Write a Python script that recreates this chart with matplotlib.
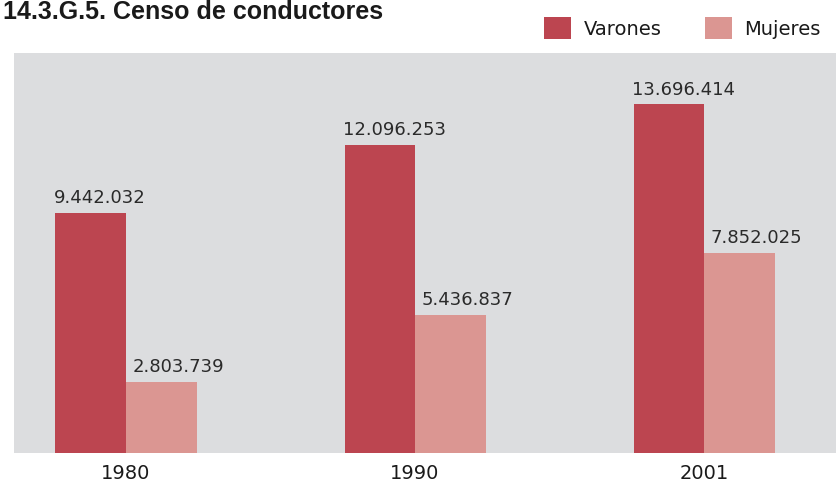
import numpy as np
import matplotlib.pyplot as plt

years = ["1980", "1990", "2001"]
varones = [9442032, 12096253, 13696414]
mujeres = [2803739, 5436837, 7852025]
series_names = ["Varones", "Mujeres"]

c_var = "#BC4550"
c_muj = "#DB9692"
bg = "#DCDDDF"


def fmt(v):
    return f"{v:,}".replace(",", ".")


fig = plt.figure(figsize=(8.37, 4.82), dpi=100)
ax = fig.add_axes([14 / 837, 29 / 482, 823 / 837, 400 / 482])
ax.set_facecolor(bg)

x = np.arange(len(years))
w = 0.244
b1 = ax.bar(x - w / 2, varones, w, color=c_var, label=series_names[0])
b2 = ax.bar(x + w / 2, mujeres, w, color=c_muj, label=series_names[1])

for xi, v in zip(x, varones):
    ax.annotate(fmt(v), (xi - w, v), xytext=(-1, 7), textcoords="offset points",
                ha="left", va="baseline", fontsize=13, color="#2a2a2a",
                family="DejaVu Sans")
for xi, v in zip(x, mujeres):
    ax.annotate(fmt(v), (xi, v), xytext=(4.5, 7), textcoords="offset points",
                ha="left", va="baseline", fontsize=13, color="#2a2a2a",
                family="DejaVu Sans")

ax.set_xlim(-0.3875, 2.46)
ax.set_ylim(0, 15.72e6)
ax.set_xticks(x)
ax.set_xticklabels(years, fontsize=14, color="#1a1a1a", family="DejaVu Sans")
ax.tick_params(axis="x", length=0, pad=8)
ax.set_yticks([])
for s in ax.spines.values():
    s.set_visible(False)

# title sits a little lower than in the reference so it is not clipped
fig.text(3 / 837, 1 - 19 / 482, "14.3.G.5. Censo de conductores",
         fontsize=18, fontweight="bold", family="Liberation Sans",
         color="#1a1a1a", ha="left", va="baseline")

fig.legend(handles=[b1, b2], loc="upper left",
           bbox_to_anchor=(544 / 837, 1 - 17 / 482), ncol=2, frameon=False,
           prop={"family": "DejaVu Sans", "size": 14}, handlelength=1.4,
           handleheight=1.4, handletextpad=0.65, columnspacing=2.2,
           borderpad=0, borderaxespad=0, labelcolor="#1a1a1a")

fig.savefig("out.png", dpi=100)
